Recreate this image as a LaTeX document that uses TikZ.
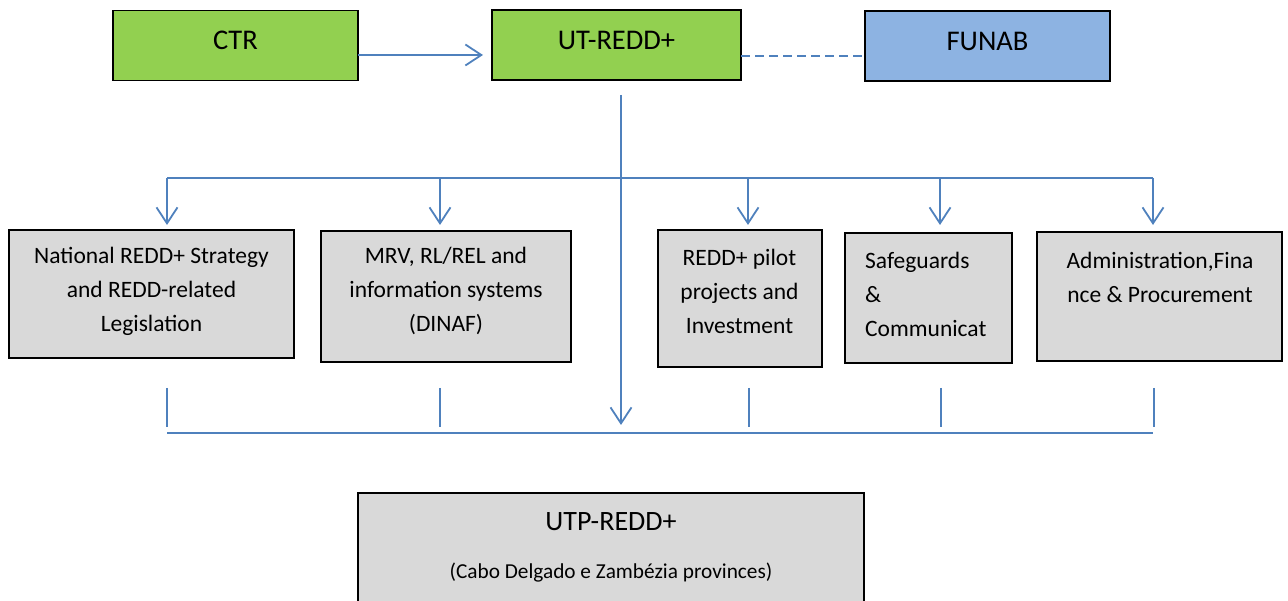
\documentclass[tikz,border=0pt]{standalone}
\usepackage{fontspec}
\setmainfont{Carlito}
\usetikzlibrary{arrows.meta}
\definecolor{lgreen}{HTML}{92D050}
\definecolor{lblue}{HTML}{8DB3E2}
\definecolor{lgray}{HTML}{D9D9D9}
\definecolor{lineblue}{HTML}{4F81BD}
\begin{document}
\begin{tikzpicture}[x=1pt,y=-1pt,
  topbox/.style={draw=black, line width=1.6pt, inner sep=0pt, minimum height=70pt,
    text height=19pt, text depth=10pt, font=\fontsize{28.5}{34}\selectfont},
  graybox/.style={draw=black, line width=1.6pt, fill=lgray, inner sep=0pt},
  txt/.style={font=\fontsize{23.5}{34}\selectfont, align=center, inner sep=0pt},
  conn/.style={draw=lineblue, line width=1.8pt},
  tick/.style={draw=lineblue, line width=1.3pt},
  arr/.style={conn, -{Straight Barb[length=16pt,width=21pt,line width=1.8pt]}}
]
\useasboundingbox (0,0) rectangle (1288,601);

% top row
\node[topbox, fill=lgreen, minimum width=245pt] (ctr) at (235.5,45.5) {CTR};
\node[topbox, fill=lgreen, minimum width=249pt] (ut) at (616.5,45) {UT-REDD+};
\node[topbox, fill=lblue, minimum width=245pt] (funab) at (987.5,46) {FUNAB};

\coordinate (a1) at (358,55);
\coordinate (a2) at (483,55);
\draw[arr] (a1) -- (a2);
\coordinate (d1) at (741,56);
\coordinate (d2) at (865,56);
\draw[draw=lineblue, line width=1.5pt, dash pattern=on 9pt off 5pt] (d1) -- (d2);

% central trunk
\coordinate (c0) at (621,95);
\coordinate (c1) at (621,425);
\draw[arr] (c0) -- (c1);

% distribution bus
\coordinate (bL) at (167,178);
\coordinate (bR) at (1153,178);
\draw[conn] (bL) -- (bR);
\foreach \x/\n in {167/1,440/2,748/3,940/4,1153/5}{
  \coordinate (top\n) at (\x,178);
  \coordinate (tip\n) at (\x,225);
  \draw[arr] (top\n) -- (tip\n);
}

% middle boxes
\node[graybox, minimum width=285pt, minimum height=128pt] (n1) at (151.5,294) {};
\node[graybox, minimum width=250pt, minimum height=131pt] (n2) at (446,296.5) {};
\node[graybox, minimum width=164pt, minimum height=137pt] (n3) at (740,298.5) {};
\node[graybox, minimum width=167pt, minimum height=130pt] (n4) at (928.5,298) {};
\node[graybox, minimum width=245pt, minimum height=129pt] (n5) at (1159.5,296.5) {};

\node[txt] (t1) at (151.5,291) {National REDD+ Strategy\\and REDD-related\\Legislation};
\node[txt] (t2) at (446,291) {MRV, RL/REL and\\information systems\\(DINAF)};
\node[txt] (t3) at (739.5,291) {REDD+ pilot\\projects and\\Investment};
\node[txt, align=left, anchor=west] (t4) at (865,294) {Safeguards\\\&\\Communicat};
\node[txt] (t5) at (1160,277) {Administration,Fina\\nce \& Procurement};

% lower collector
\foreach \x/\n in {167/1,440/2,749/3,941/4,1154/5}{
  \coordinate (u\n) at (\x,388);
  \coordinate (v\n) at (\x,427);
  \draw[tick] (u\n) -- (v\n);
}
\coordinate (cL) at (167,433);
\coordinate (cR) at (1153,433);
\draw[draw=lineblue, line width=2.2pt] (cL) -- (cR);

% bottom box
\node[graybox, minimum width=506pt, minimum height=125pt, anchor=north] (utp) at (611,492) {};
\node[font=\fontsize{28}{32}\selectfont, inner sep=0pt] (utpt) at (611,522) {UTP-REDD+};
\node[font=\fontsize{21.3}{25}\selectfont, inner sep=0pt] (utps) at (611,573) {(Cabo Delgado e Zambézia provinces)};
\end{tikzpicture}
\end{document}
